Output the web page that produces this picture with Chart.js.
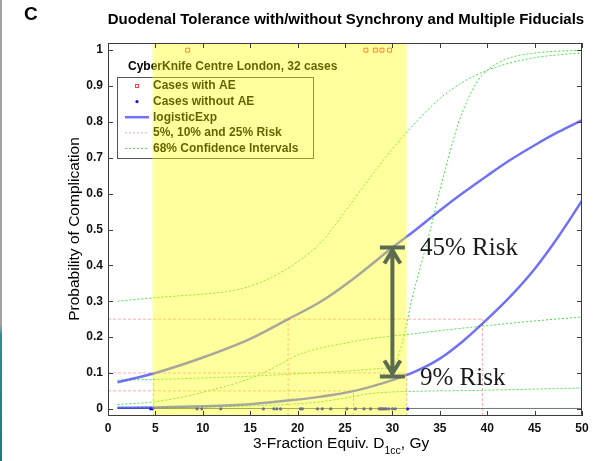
<!DOCTYPE html>
<html>
<head>
<meta charset="utf-8">
<script src="https://cdn.jsdelivr.net/npm/chart.js@4.4.1/dist/chart.umd.min.js"></script>
<style>
  html, body { margin: 0; padding: 0; background: #fff; }
  #wrap { position: relative; width: 602px; height: 461px; }
  #plot { width: 602px; height: 461px; }
  #edge { position: absolute; left: 0; top: 0; width: 2px; height: 461px;
          background: linear-gradient(#a3a3a3 0, #a3a3a3 325px, #2e8e94 335px, #1d7a80 461px); }
</style>
</head>
<body>
<div id="wrap">
  <canvas id="plot" width="602" height="461"></canvas>
  <div id="edge"></div>
</div>
<script>
// axes
const doseTicks = [0, 5, 10, 15, 20, 25, 30, 35, 40, 45, 50];
const probTicks = [0, 0.1, 0.2, 0.3, 0.4, 0.5, 0.6, 0.7, 0.8, 0.9, 1];
const probTickLabels = ['0', '0.1', '0.2', '0.3', '0.4', '0.5', '0.6', '0.7', '0.8', '0.9', '1'];

// patients (dose in Gy), plotted at 1 = complication, 0 = none
const aeDoses = [8.4, 27.2, 28.2, 28.9, 29.7];
const noAeDoses = [4.5, 4.7, 9.4, 9.9, 11.9, 16.4, 17.5, 17.8, 18.2, 20.3, 20.5, 22.1, 22.6, 23.5,
                   25.2, 26.1, 27.0, 27.7, 28.6, 28.8, 28.9, 29.1, 29.3, 29.6, 30.0, 30.3, 31.6];

// fitted logisticExp curves
const curveDoses = [1, 5, 10, 15, 19, 22.5, 26, 30, 32.5, 35, 37.5, 40, 42.5, 45, 47.5, 50];
const withoutSyncRisk = [0.074, 0.10, 0.143, 0.195, 0.25, 0.30, 0.365, 0.45, 0.50, 0.553, 0.603, 0.65, 0.695, 0.735, 0.772, 0.805];
const withSyncRisk = [0.003, 0.004, 0.007, 0.013, 0.023, 0.034, 0.05, 0.08, 0.105, 0.14, 0.19, 0.25, 0.315, 0.39, 0.48, 0.58];

// 68% confidence bands
const ciDosesA = [1, 5, 10, 12.5, 15, 17.5, 20, 22.5, 25, 27.5, 30, 32.5, 35, 37.5, 40, 42.5, 45, 47.5, 50];
const withoutSyncUpper = [0.30, 0.31, 0.32, 0.327, 0.342, 0.37, 0.41, 0.465, 0.55, 0.64, 0.725, 0.80, 0.865, 0.912, 0.944, 0.965, 0.979, 0.987, 0.992];
const ciDosesB = [1, 5, 10, 15, 17.5, 20, 22.5, 25, 27.5, 30, 32.5, 35, 40, 45, 50];
const withoutSyncLower = [0.012, 0.02, 0.046, 0.085, 0.115, 0.15, 0.17, 0.183, 0.195, 0.203, 0.21, 0.218, 0.232, 0.245, 0.256];
const ciDosesC = [1, 5, 10, 15, 20, 25, 27.5, 29, 30, 30.5, 31, 31.5, 32, 33, 34, 35, 36, 37, 38, 39, 40, 42, 45, 50];
const withSyncUpper = [0.08, 0.082, 0.086, 0.091, 0.098, 0.105, 0.11, 0.113, 0.118, 0.14, 0.18, 0.235, 0.30, 0.40, 0.50, 0.61, 0.71, 0.80, 0.865, 0.915, 0.944, 0.975, 0.992, 1.0];
const ciDosesD = [1, 10, 15, 20, 22.5, 25, 27.5, 30, 32.5, 35, 40, 45, 50];
const withSyncLower = [0.003, 0.005, 0.008, 0.014, 0.02, 0.03, 0.042, 0.047, 0.049, 0.05, 0.052, 0.055, 0.058];

// 5%, 10% and 25% risk levels and the doses where each curve reaches them
const riskLevels = [0.05, 0.10, 0.25];
const riskDoseWithSync = [25.9, 31.5, 39.5];
const riskDoseWithoutSync = [null, 4.8, 19.0];

// dose range covered by the cases
const caseRange = [4.7, 31.5];

// arrow between the two curves
const arrowDose = 30;
const arrowRisk = [0.09, 0.45];
const arrowLabels = ['9% Risk', '45% Risk'];

const legendHeading = 'CyberKnife Centre London, 32 cases';
const legendLabels = ['Cases with AE', 'Cases without AE', 'logisticExp', '5%, 10% and 25% Risk', '68% Confidence Intervals'];

const Y_MIN = -0.02, Y_MAX = 1.02;
const SANS = '"Liberation Sans", Arial, sans-serif';

const zip = (xs, ys) => xs.map((x, i) => ({ x: x, y: ys[i] }));

// risk guides as broken segments
const riskPoints = [];
riskLevels.forEach((lv, i) => {
    riskPoints.push({ x: 0, y: lv }, { x: riskDoseWithSync[i], y: lv }, { x: NaN, y: null });
    [riskDoseWithSync[i], riskDoseWithoutSync[i]].forEach(d => {
        if (d === null) return;
        riskPoints.push({ x: d, y: Y_MIN }, { x: d, y: lv }, { x: NaN, y: null });
    });
});

const blue = 'rgba(45,45,245,0.68)';
const green = 'rgb(70,228,70)';
const pink = 'rgba(255,90,90,0.5)';

const curve = (data, color, width, dash) => ({
    data: data, showLine: true, pointRadius: 0, borderColor: color, borderWidth: width,
    borderDash: dash || [], cubicInterpolationMode: 'monotone', fill: false
});

const datasets = [
    curve(zip(curveDoses, withoutSyncRisk), blue, 2.5),
    curve(zip(curveDoses, withSyncRisk), blue, 2.5),
    { data: aeDoses.map(d => ({ x: d, y: 1 })), pointStyle: 'rect', pointRadius: 2.8,
      borderColor: 'rgba(255,40,40,0.9)', borderWidth: 1, backgroundColor: 'transparent' },
    { data: noAeDoses.map(d => ({ x: d, y: 0 })), pointStyle: 'circle', pointRadius: 1.6,
      borderColor: 'rgb(20,20,230)', backgroundColor: 'rgb(20,20,230)', borderWidth: 0 },
    curve(zip(ciDosesA, withoutSyncUpper), green, 1, [2, 2]),
    curve(zip(ciDosesB, withoutSyncLower), green, 1, [2, 2]),
    curve(zip(ciDosesC, withSyncUpper), green, 1, [2, 2]),
    curve(zip(ciDosesD, withSyncLower), green, 1, [2, 2]),
    curve([{ x: 1, y: 0.001 }, { x: 50, y: 0.001 }], 'rgba(70,90,80,0.8)', 1),
    { data: riskPoints, showLine: true, pointRadius: 0, borderColor: pink, borderWidth: 1,
      borderDash: [3, 2], spanGaps: false, tension: 0 }
];

const figureText = {
    id: 'figureText',
    afterDatasetsDraw(chart) {
        const { ctx, chartArea: a, scales: { x, y } } = chart;
        ctx.save();

        // legend inside the plot
        ctx.font = 'bold 12px ' + SANS;
        ctx.textBaseline = 'middle';
        ctx.fillStyle = '#000';
        ctx.fillText(legendHeading, 128, 67);
        ctx.strokeStyle = '#555';
        ctx.lineWidth = 1;
        ctx.strokeRect(117.5, 77.5, 196, 81);
        legendLabels.forEach((label, i) => {
            const cy = 86 + i * 15.6;
            ctx.fillStyle = '#000';
            ctx.fillText(label, 153, cy);
            ctx.setLineDash([]);
            if (i === 0) {
                ctx.strokeStyle = 'rgba(255,40,40,0.9)';
                ctx.strokeRect(135.5, cy - 1.5, 3, 3);
            } else if (i === 1) {
                ctx.fillStyle = 'rgb(20,20,230)';
                ctx.beginPath(); ctx.arc(137, cy, 1.6, 0, Math.PI * 2); ctx.fill();
            } else {
                ctx.strokeStyle = [blue, pink, green][i - 2];
                ctx.lineWidth = i === 2 ? 2.5 : 1;
                ctx.setLineDash(i === 2 ? [] : [2, 2]);
                ctx.beginPath(); ctx.moveTo(125, cy); ctx.lineTo(149, cy); ctx.stroke();
                ctx.lineWidth = 1;
            }
        });
        ctx.setLineDash([]);

        // translucent band over the dose range of the cases
        const bx0 = x.getPixelForValue(caseRange[0]), bx1 = x.getPixelForValue(caseRange[1]);
        ctx.fillStyle = 'rgba(255,255,0,0.38)';
        ctx.fillRect(bx0, a.top, bx1 - bx0, a.bottom - a.top);

        // box and inward ticks on all four sides
        ctx.strokeStyle = '#3c3c3c';
        ctx.lineWidth = 1;
        ctx.strokeRect(a.left + 0.5, a.top + 0.5, a.right - a.left - 1, a.bottom - a.top - 1);
        ctx.beginPath();
        doseTicks.forEach(v => {
            const px = Math.round(x.getPixelForValue(v)) + 0.5;
            ctx.moveTo(px, a.bottom); ctx.lineTo(px, a.bottom - 5);
            ctx.moveTo(px, a.top); ctx.lineTo(px, a.top + 5);
        });
        probTicks.forEach(v => {
            const py = Math.round(y.getPixelForValue(v)) + 0.5;
            ctx.moveTo(a.left, py); ctx.lineTo(a.left + 5, py);
            ctx.moveTo(a.right, py); ctx.lineTo(a.right - 5, py);
        });
        ctx.stroke();

        // double arrow
        const ax = x.getPixelForValue(arrowDose);
        const yLo = y.getPixelForValue(arrowRisk[0]), yHi = y.getPixelForValue(arrowRisk[1]);
        ctx.strokeStyle = '#5c6c50';
        ctx.lineWidth = 4;
        ctx.lineCap = 'butt';
        ctx.beginPath();
        ctx.moveTo(ax - 12.5, yHi); ctx.lineTo(ax + 12.5, yHi);
        ctx.moveTo(ax - 12.5, yLo); ctx.lineTo(ax + 12.5, yLo);
        ctx.moveTo(ax, yHi + 3); ctx.lineTo(ax, yLo - 3);
        ctx.moveTo(ax - 8, yHi + 16); ctx.lineTo(ax, yHi + 3); ctx.lineTo(ax + 8, yHi + 16);
        ctx.moveTo(ax - 8, yLo - 16); ctx.lineTo(ax, yLo - 3); ctx.lineTo(ax + 8, yLo - 16);
        ctx.stroke();

        ctx.fillStyle = '#1a1a1a';
        ctx.font = '25px "Liberation Serif", "Times New Roman", serif';
        ctx.textBaseline = 'middle';
        ctx.fillText(arrowLabels[1], 420, yHi + 1);
        ctx.fillText(arrowLabels[0], 420, yLo + 2);

        ctx.restore();
    },
    afterDraw(chart) {
        const { ctx } = chart;
        ctx.save();
        ctx.fillStyle = '#000';
        ctx.textBaseline = 'middle';
        ctx.font = 'bold 19px ' + SANS;
        ctx.fillText('C', 24, 15);
        ctx.font = 'bold 15px ' + SANS;
        ctx.textAlign = 'center';
        ctx.fillText('Duodenal Tolerance with/without Synchrony and Multiple Fiducials', 346, 20);

        // y axis title
        ctx.font = '15.5px ' + SANS;
        ctx.save();
        ctx.translate(75, 229);
        ctx.rotate(-Math.PI / 2);
        ctx.fillText('Probability of Complication', 0, 0);
        ctx.restore();

        // x axis title with subscript
        ctx.textAlign = 'left';
        ctx.textBaseline = 'alphabetic';
        let tx = 253;
        const part1 = '3-Fraction Equiv. D';
        ctx.fillText(part1, tx, 448);
        tx += ctx.measureText(part1).width;
        ctx.font = '10.5px ' + SANS;
        ctx.fillText('1cc', tx, 454);
        tx += ctx.measureText('1cc').width;
        ctx.font = '15.5px ' + SANS;
        ctx.fillText(', Gy', tx, 448);
        ctx.restore();
    }
};

new Chart(document.getElementById('plot'), {
    type: 'scatter',
    data: { datasets: datasets },
    options: {
        responsive: false,
        animation: false,
        layout: { padding: { top: 43, right: 20, left: 0, bottom: 0 } },
        plugins: { legend: { display: false }, tooltip: { enabled: false } },
        scales: {
            x: {
                type: 'linear', min: 0, max: 50,
                grid: { display: false, drawTicks: false },
                border: { display: false },
                afterFit: (s) => { s.height = 45; },
                afterBuildTicks: (s) => { s.ticks = doseTicks.map(v => ({ value: v })); },
                ticks: { padding: 5, color: '#111', maxRotation: 0,
                         font: { family: SANS, weight: 'bold', size: 12 } }
            },
            y: {
                type: 'linear', min: Y_MIN, max: Y_MAX,
                grid: { display: false, drawTicks: false },
                border: { display: false },
                afterFit: (s) => { s.width = 108; },
                afterBuildTicks: (s) => { s.ticks = probTicks.map(v => ({ value: v })); },
                ticks: { padding: 5, color: '#111',
                         font: { family: SANS, weight: 'bold', size: 12 },
                         callback: (v, i) => probTickLabels[i] }
            }
        }
    },
    plugins: [figureText]
});
</script>
</body>
</html>
